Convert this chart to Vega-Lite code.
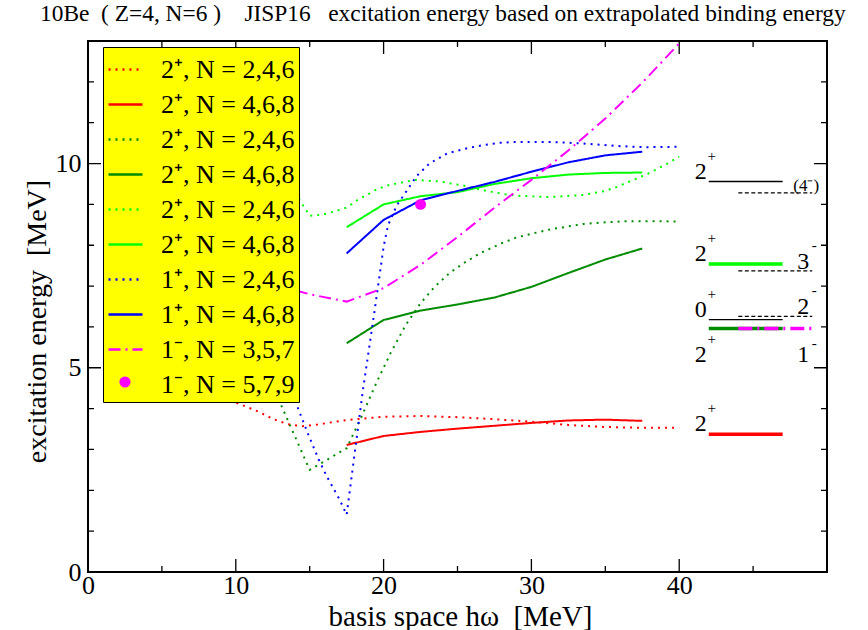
{
  "$schema": "https://vega.github.io/schema/vega-lite/v6.json",
  "width": 739,
  "height": 531,
  "autosize": {"type": "none"},
  "padding": {"left": 88, "top": 41, "right": 41, "bottom": 58},
  "background": "white",
  "config": {
    "view": {"stroke": "black", "strokeWidth": 2},
    "font": "Liberation Serif",
    "axis": {
      "domain": false, "ticks": false, "grid": false,
      "labelFont": "Liberation Serif", "labelFontSize": 26, "labelColor": "black",
      "titleFont": "Liberation Serif", "titleFontSize": 29, "titleFontWeight": "normal", "titleColor": "black",
      "labelFlush": false, "labelOverlap": false
    }
  },
  "title": {
    "text": "10Be\u00a0\u00a0(\u00a0Z=4,\u00a0N=6\u00a0)\u00a0\u00a0\u00a0\u00a0JISP16\u00a0\u00a0\u00a0excitation energy based on extrapolated binding energy",
    "anchor": "start", "frame": "group", "dx": -48, "offset": 14,
    "font": "Liberation Serif", "fontSize": 23.4, "fontWeight": "normal", "color": "black"
  },
  "datasets": {
    "xticks": [
      {"v": 5, "kind": "minor"}, {"v": 10, "kind": "major"}, {"v": 15, "kind": "minor"},
      {"v": 20, "kind": "major"}, {"v": 25, "kind": "minor"}, {"v": 30, "kind": "major"}, {"v": 35, "kind": "minor"},
      {"v": 40, "kind": "major"}, {"v": 45, "kind": "minor"}
    ],
    "yticks": [
      {"v": 1, "kind": "minor"}, {"v": 2, "kind": "minor"}, {"v": 3, "kind": "minor"}, {"v": 4, "kind": "minor"},
      {"v": 5, "kind": "major"}, {"v": 6, "kind": "minor"}, {"v": 7, "kind": "minor"}, {"v": 8, "kind": "minor"},
      {"v": 9, "kind": "minor"}, {"v": 10, "kind": "major"}, {"v": 11, "kind": "minor"}, {"v": 12, "kind": "minor"}
    ],
    "series": [
      {"series": "2⁺, N = 2,4,6|1", "hw": 7.5, "E": 4.6},
      {"series": "2⁺, N = 2,4,6|1", "hw": 10, "E": 4.15},
      {"series": "2⁺, N = 2,4,6|1", "hw": 11.5, "E": 3.93},
      {"series": "2⁺, N = 2,4,6|1", "hw": 12.5, "E": 3.75},
      {"series": "2⁺, N = 2,4,6|1", "hw": 13.5, "E": 3.62},
      {"series": "2⁺, N = 2,4,6|1", "hw": 14.5, "E": 3.57},
      {"series": "2⁺, N = 2,4,6|1", "hw": 15.5, "E": 3.61},
      {"series": "2⁺, N = 2,4,6|1", "hw": 17.5, "E": 3.72},
      {"series": "2⁺, N = 2,4,6|1", "hw": 20, "E": 3.80},
      {"series": "2⁺, N = 2,4,6|1", "hw": 22.5, "E": 3.82},
      {"series": "2⁺, N = 2,4,6|1", "hw": 25, "E": 3.79},
      {"series": "2⁺, N = 2,4,6|1", "hw": 27.5, "E": 3.74},
      {"series": "2⁺, N = 2,4,6|1", "hw": 30, "E": 3.68},
      {"series": "2⁺, N = 2,4,6|1", "hw": 32.5, "E": 3.60},
      {"series": "2⁺, N = 2,4,6|1", "hw": 35, "E": 3.55},
      {"series": "2⁺, N = 2,4,6|1", "hw": 37.5, "E": 3.53},
      {"series": "2⁺, N = 2,4,6|1", "hw": 40, "E": 3.53},

      {"series": "2⁺, N = 4,6,8|1", "hw": 17.5, "E": 3.11},
      {"series": "2⁺, N = 4,6,8|1", "hw": 20, "E": 3.33},
      {"series": "2⁺, N = 4,6,8|1", "hw": 22.5, "E": 3.43},
      {"series": "2⁺, N = 4,6,8|1", "hw": 25, "E": 3.51},
      {"series": "2⁺, N = 4,6,8|1", "hw": 27.5, "E": 3.58},
      {"series": "2⁺, N = 4,6,8|1", "hw": 30, "E": 3.65},
      {"series": "2⁺, N = 4,6,8|1", "hw": 32.5, "E": 3.71},
      {"series": "2⁺, N = 4,6,8|1", "hw": 35, "E": 3.73},
      {"series": "2⁺, N = 4,6,8|1", "hw": 37.5, "E": 3.70},

      {"series": "2⁺, N = 2,4,6|2", "hw": 12.5, "E": 4.55},
      {"series": "2⁺, N = 2,4,6|2", "hw": 15, "E": 2.50},
      {"series": "2⁺, N = 2,4,6|2", "hw": 17.5, "E": 3.03},
      {"series": "2⁺, N = 2,4,6|2", "hw": 18.5, "E": 3.80},
      {"series": "2⁺, N = 2,4,6|2", "hw": 19.5, "E": 4.62},
      {"series": "2⁺, N = 2,4,6|2", "hw": 20.5, "E": 5.38},
      {"series": "2⁺, N = 2,4,6|2", "hw": 21.5, "E": 6.05},
      {"series": "2⁺, N = 2,4,6|2", "hw": 22.5, "E": 6.58},
      {"series": "2⁺, N = 2,4,6|2", "hw": 23.5, "E": 7.00},
      {"series": "2⁺, N = 2,4,6|2", "hw": 24.5, "E": 7.33},
      {"series": "2⁺, N = 2,4,6|2", "hw": 25.5, "E": 7.58},
      {"series": "2⁺, N = 2,4,6|2", "hw": 26.5, "E": 7.80},
      {"series": "2⁺, N = 2,4,6|2", "hw": 28, "E": 8.05},
      {"series": "2⁺, N = 2,4,6|2", "hw": 29, "E": 8.19},
      {"series": "2⁺, N = 2,4,6|2", "hw": 30, "E": 8.28},
      {"series": "2⁺, N = 2,4,6|2", "hw": 31.3, "E": 8.39},
      {"series": "2⁺, N = 2,4,6|2", "hw": 32.5, "E": 8.46},
      {"series": "2⁺, N = 2,4,6|2", "hw": 33.5, "E": 8.52},
      {"series": "2⁺, N = 2,4,6|2", "hw": 35, "E": 8.56},
      {"series": "2⁺, N = 2,4,6|2", "hw": 36.5, "E": 8.59},
      {"series": "2⁺, N = 2,4,6|2", "hw": 38, "E": 8.59},
      {"series": "2⁺, N = 2,4,6|2", "hw": 40, "E": 8.58},

      {"series": "2⁺, N = 4,6,8|2", "hw": 17.5, "E": 5.60},
      {"series": "2⁺, N = 4,6,8|2", "hw": 20, "E": 6.17},
      {"series": "2⁺, N = 4,6,8|2", "hw": 22.5, "E": 6.40},
      {"series": "2⁺, N = 4,6,8|2", "hw": 25, "E": 6.55},
      {"series": "2⁺, N = 4,6,8|2", "hw": 27.5, "E": 6.72},
      {"series": "2⁺, N = 4,6,8|2", "hw": 30, "E": 6.98},
      {"series": "2⁺, N = 4,6,8|2", "hw": 32.5, "E": 7.32},
      {"series": "2⁺, N = 4,6,8|2", "hw": 35, "E": 7.65},
      {"series": "2⁺, N = 4,6,8|2", "hw": 37.5, "E": 7.92},

      {"series": "2⁺, N = 2,4,6|3", "hw": 12.5, "E": 9.95},
      {"series": "2⁺, N = 2,4,6|3", "hw": 14.3, "E": 9.12},
      {"series": "2⁺, N = 2,4,6|3", "hw": 15, "E": 8.72},
      {"series": "2⁺, N = 2,4,6|3", "hw": 15.9, "E": 8.75},
      {"series": "2⁺, N = 2,4,6|3", "hw": 16.6, "E": 8.82},
      {"series": "2⁺, N = 2,4,6|3", "hw": 17.5, "E": 8.92},
      {"series": "2⁺, N = 2,4,6|3", "hw": 18.2, "E": 9.10},
      {"series": "2⁺, N = 2,4,6|3", "hw": 18.9, "E": 9.24},
      {"series": "2⁺, N = 2,4,6|3", "hw": 19.5, "E": 9.36},
      {"series": "2⁺, N = 2,4,6|3", "hw": 20.2, "E": 9.46},
      {"series": "2⁺, N = 2,4,6|3", "hw": 21, "E": 9.52},
      {"series": "2⁺, N = 2,4,6|3", "hw": 22.2, "E": 9.60},
      {"series": "2⁺, N = 2,4,6|3", "hw": 23.8, "E": 9.56},
      {"series": "2⁺, N = 2,4,6|3", "hw": 25.4, "E": 9.46},
      {"series": "2⁺, N = 2,4,6|3", "hw": 26.7, "E": 9.35},
      {"series": "2⁺, N = 2,4,6|3", "hw": 28, "E": 9.26},
      {"series": "2⁺, N = 2,4,6|3", "hw": 29, "E": 9.21},
      {"series": "2⁺, N = 2,4,6|3", "hw": 31.3, "E": 9.18},
      {"series": "2⁺, N = 2,4,6|3", "hw": 33.5, "E": 9.23},
      {"series": "2⁺, N = 2,4,6|3", "hw": 35, "E": 9.33},
      {"series": "2⁺, N = 2,4,6|3", "hw": 35.8, "E": 9.43},
      {"series": "2⁺, N = 2,4,6|3", "hw": 36.9, "E": 9.60},
      {"series": "2⁺, N = 2,4,6|3", "hw": 38, "E": 9.77},
      {"series": "2⁺, N = 2,4,6|3", "hw": 39.2, "E": 10.0},
      {"series": "2⁺, N = 2,4,6|3", "hw": 40, "E": 10.17},

      {"series": "2⁺, N = 4,6,8|3", "hw": 17.5, "E": 8.44},
      {"series": "2⁺, N = 4,6,8|3", "hw": 20, "E": 9.00},
      {"series": "2⁺, N = 4,6,8|3", "hw": 22.5, "E": 9.20},
      {"series": "2⁺, N = 4,6,8|3", "hw": 25, "E": 9.30},
      {"series": "2⁺, N = 4,6,8|3", "hw": 27.5, "E": 9.50},
      {"series": "2⁺, N = 4,6,8|3", "hw": 30, "E": 9.64},
      {"series": "2⁺, N = 4,6,8|3", "hw": 32.5, "E": 9.73},
      {"series": "2⁺, N = 4,6,8|3", "hw": 35, "E": 9.77},
      {"series": "2⁺, N = 4,6,8|3", "hw": 37.5, "E": 9.78},

      {"series": "1⁺, N = 2,4,6|1", "hw": 12.5, "E": 5.45},
      {"series": "1⁺, N = 2,4,6|1", "hw": 14.1, "E": 4.11},
      {"series": "1⁺, N = 2,4,6|1", "hw": 14.9, "E": 3.37},
      {"series": "1⁺, N = 2,4,6|1", "hw": 15.6, "E": 2.76},
      {"series": "1⁺, N = 2,4,6|1", "hw": 16.2, "E": 2.31},
      {"series": "1⁺, N = 2,4,6|1", "hw": 17, "E": 1.79},
      {"series": "1⁺, N = 2,4,6|1", "hw": 17.5, "E": 1.40},
      {"series": "1⁺, N = 2,4,6|1", "hw": 18.6, "E": 4.45},
      {"series": "1⁺, N = 2,4,6|1", "hw": 19.3, "E": 6.17},
      {"series": "1⁺, N = 2,4,6|1", "hw": 20, "E": 7.96},
      {"series": "1⁺, N = 2,4,6|1", "hw": 20.3, "E": 8.49},
      {"series": "1⁺, N = 2,4,6|1", "hw": 20.9, "E": 8.98},
      {"series": "1⁺, N = 2,4,6|1", "hw": 21.6, "E": 9.35},
      {"series": "1⁺, N = 2,4,6|1", "hw": 22.2, "E": 9.68},
      {"series": "1⁺, N = 2,4,6|1", "hw": 23.1, "E": 10.0},
      {"series": "1⁺, N = 2,4,6|1", "hw": 24.3, "E": 10.25},
      {"series": "1⁺, N = 2,4,6|1", "hw": 25.6, "E": 10.37},
      {"series": "1⁺, N = 2,4,6|1", "hw": 26.7, "E": 10.45},
      {"series": "1⁺, N = 2,4,6|1", "hw": 27.9, "E": 10.51},
      {"series": "1⁺, N = 2,4,6|1", "hw": 29, "E": 10.53},
      {"series": "1⁺, N = 2,4,6|1", "hw": 31.3, "E": 10.53},
      {"series": "1⁺, N = 2,4,6|1", "hw": 33.5, "E": 10.49},
      {"series": "1⁺, N = 2,4,6|1", "hw": 35.8, "E": 10.43},
      {"series": "1⁺, N = 2,4,6|1", "hw": 37.6, "E": 10.40},
      {"series": "1⁺, N = 2,4,6|1", "hw": 40, "E": 10.41},

      {"series": "1⁺, N = 4,6,8|1", "hw": 17.5, "E": 7.80},
      {"series": "1⁺, N = 4,6,8|1", "hw": 20, "E": 8.62},
      {"series": "1⁺, N = 4,6,8|1", "hw": 22.5, "E": 9.10},
      {"series": "1⁺, N = 4,6,8|1", "hw": 25, "E": 9.33},
      {"series": "1⁺, N = 4,6,8|1", "hw": 27.5, "E": 9.55},
      {"series": "1⁺, N = 4,6,8|1", "hw": 30, "E": 9.80},
      {"series": "1⁺, N = 4,6,8|1", "hw": 32.5, "E": 10.03},
      {"series": "1⁺, N = 4,6,8|1", "hw": 35, "E": 10.20},
      {"series": "1⁺, N = 4,6,8|1", "hw": 37.5, "E": 10.29},

      {"series": "1⁻, N = 3,5,7|1", "hw": 12.5, "E": 7.05},
      {"series": "1⁻, N = 3,5,7|1", "hw": 15, "E": 6.80},
      {"series": "1⁻, N = 3,5,7|1", "hw": 17.5, "E": 6.62},
      {"series": "1⁻, N = 3,5,7|1", "hw": 20, "E": 6.95},
      {"series": "1⁻, N = 3,5,7|1", "hw": 22.5, "E": 7.52},
      {"series": "1⁻, N = 3,5,7|1", "hw": 25, "E": 8.20},
      {"series": "1⁻, N = 3,5,7|1", "hw": 27.5, "E": 8.92},
      {"series": "1⁻, N = 3,5,7|1", "hw": 30, "E": 9.60},
      {"series": "1⁻, N = 3,5,7|1", "hw": 32.5, "E": 10.32},
      {"series": "1⁻, N = 3,5,7|1", "hw": 35, "E": 11.10},
      {"series": "1⁻, N = 3,5,7|1", "hw": 37.5, "E": 11.98},
      {"series": "1⁻, N = 3,5,7|1", "hw": 40, "E": 12.94},

      {"series": "1⁻, N = 5,7,9|1", "hw": 22.5, "E": 9.0}
    ],
    "levels": [
      {"label": "2", "sup": "+", "E": 9.56, "x1": 42, "x2": 47, "col": "left", "pos": "above", "series": "exp"},
      {"label": "2", "sup": "+", "E": 7.54, "x1": 42, "x2": 47, "col": "left", "pos": "above", "series": "2⁺, N = 4,6,8|3"},
      {"label": "0", "sup": "+", "E": 6.18, "x1": 42, "x2": 47, "col": "left", "pos": "above", "series": "exp"},
      {"label": "2", "sup": "+", "E": 5.96, "x1": 42, "x2": 47, "col": "left", "pos": "below", "series": "2⁺, N = 4,6,8|2"},
      {"label": "2", "sup": "+", "E": 3.37, "x1": 42, "x2": 47, "col": "left", "pos": "above", "series": "2⁺, N = 4,6,8|1"},
      {"label": "(4⁻)", "sup": "", "E": 9.28, "x1": 44, "x2": 49, "col": "right", "pos": "above", "series": "exp"},
      {"label": "3", "sup": "-", "E": 7.37, "x1": 44, "x2": 49, "col": "right", "pos": "above", "series": "exp"},
      {"label": "2", "sup": "-", "E": 6.26, "x1": 44, "x2": 49, "col": "right", "pos": "above", "series": "exp"},
      {"label": "1", "sup": "-", "E": 5.96, "x1": 44, "x2": 49, "col": "right", "pos": "below", "series": "1⁻, N = 3,5,7|1"}
    ]
  },
  "resolve": {"axis": {"x": "independent", "y": "independent"}},
  "layer": [
    {
      "data": {"name": "xticks"},
      "transform": [{"filter": "datum.kind === 'major'"}],
      "mark": {"type": "rule", "color": "black", "strokeWidth": 1.3, "strokeDash": [13, 505, 13, 2000]},
      "encoding": {
        "x": {"field": "v", "type": "quantitative", "scale": {"domain": [0, 50], "nice": false, "zero": false}, "axis": null},
        "y": {"datum": 0, "type": "quantitative", "scale": {"domain": [0, 13], "nice": false, "zero": false}, "axis": null},
        "y2": {"datum": 13}
      }
    },
    {
      "data": {"name": "xticks"},
      "transform": [{"filter": "datum.kind === 'minor'"}],
      "mark": {"type": "rule", "color": "black", "strokeWidth": 1.3, "strokeDash": [6, 519, 6, 2000]},
      "encoding": {
        "x": {"field": "v", "type": "quantitative", "axis": null},
        "y": {"datum": 0, "type": "quantitative", "axis": null},
        "y2": {"datum": 13}
      }
    },
    {
      "data": {"name": "yticks"},
      "transform": [{"filter": "datum.kind === 'major'"}],
      "mark": {"type": "rule", "color": "black", "strokeWidth": 1.3, "strokeDash": [13, 713, 13, 2000]},
      "encoding": {
        "y": {"field": "v", "type": "quantitative", "axis": null},
        "x": {"datum": 0, "type": "quantitative", "axis": null},
        "x2": {"datum": 50}
      }
    },
    {
      "data": {"name": "yticks"},
      "transform": [{"filter": "datum.kind === 'minor'"}],
      "mark": {"type": "rule", "color": "black", "strokeWidth": 1.3, "strokeDash": [6, 727, 6, 2000]},
      "encoding": {
        "y": {"field": "v", "type": "quantitative", "axis": null},
        "x": {"datum": 0, "type": "quantitative", "axis": null},
        "x2": {"datum": 50}
      }
    },
    {
      "data": {"name": "series"},
      "transform": [{"filter": "datum.series !== '1⁻, N = 5,7,9|1'"}],
      "mark": {"type": "line", "strokeWidth": 2, "clip": true},
      "encoding": {
        "x": {
          "field": "hw", "type": "quantitative",
          "scale": {"domain": [0, 50], "nice": false, "zero": false},
          "axis": {
            "orient": "bottom", "values": [0, 10, 20, 30, 40],
            "labelBaseline": "alphabetic", "labelPadding": 21,
            "title": "basis space hω\u00a0\u00a0[MeV]", "titleX": 372, "titleY": 53, "titleBaseline": "alphabetic"
          }
        },
        "y": {
          "field": "E", "type": "quantitative",
          "scale": {"domain": [0, 13], "nice": false, "zero": false},
          "axis": {
            "orient": "left", "values": [0, 5, 10], "labelPadding": 7,
            "title": "excitation energy\u00a0\u00a0[MeV]", "titleFontSize": 28, "titleX": -43, "titleY": 280, "titleBaseline": "alphabetic"
          }
        },
        "color": {
          "field": "series", "type": "nominal",
          "scale": {
            "domain": ["2⁺, N = 2,4,6|1", "2⁺, N = 4,6,8|1", "2⁺, N = 2,4,6|2", "2⁺, N = 4,6,8|2", "2⁺, N = 2,4,6|3", "2⁺, N = 4,6,8|3", "1⁺, N = 2,4,6|1", "1⁺, N = 4,6,8|1", "1⁻, N = 3,5,7|1", "1⁻, N = 5,7,9|1"],
            "range": ["#ff0000", "#ff0000", "#008b00", "#008b00", "#00ff00", "#00ff00", "#0000ff", "#0000ff", "#ff00ff", "#ff00ff"]
          },
          "legend": {
            "title": null, "orient": "none", "legendX": 15, "legendY": 6,
            "fillColor": "#ffff00", "strokeColor": "#000000", "padding": 4,
            "symbolType": "stroke", "symbolSize": 1156, "symbolStrokeWidth": 2.5,
            "labelFont": "Liberation Serif", "labelFontSize": 26, "labelColor": "black",
            "labelOffset": 17, "labelLimit": 400, "rowPadding": 3,
            "labelExpr": "substring(datum.label, 0, indexof(datum.label, '|'))"
          }
        },
        "strokeDash": {
          "field": "series", "type": "nominal",
          "scale": {
            "domain": ["2⁺, N = 2,4,6|1", "2⁺, N = 4,6,8|1", "2⁺, N = 2,4,6|2", "2⁺, N = 4,6,8|2", "2⁺, N = 2,4,6|3", "2⁺, N = 4,6,8|3", "1⁺, N = 2,4,6|1", "1⁺, N = 4,6,8|1", "1⁻, N = 3,5,7|1", "1⁻, N = 5,7,9|1"],
            "range": [[2, 5], [1, 0], [2, 5], [1, 0], [2, 5], [1, 0], [2, 5], [1, 0], [12, 5, 2, 5], [0, 1000]]
          }
        }
      }
    },
    {
      "data": {"name": "series"},
      "transform": [{"filter": "datum.series === '1⁻, N = 5,7,9|1'"}],
      "mark": {"type": "point", "filled": true, "color": "#ff00ff", "opacity": 1, "size": 120},
      "encoding": {
        "x": {"field": "hw", "type": "quantitative", "axis": null},
        "y": {"field": "E", "type": "quantitative", "axis": null},
        "shape": {
          "field": "series", "type": "nominal",
          "scale": {"domain": ["1⁻, N = 5,7,9|1"], "range": ["circle"]},
          "legend": {
            "title": null, "orient": "none", "legendX": 31, "legendY": 335, "padding": 0,
            "labelExpr": "''", "symbolSize": 125, "symbolFillColor": "#ff00ff",
            "symbolStrokeColor": "#ff00ff", "symbolStrokeWidth": 0, "symbolOpacity": 1
          }
        }
      }
    },
    {
      "data": {"name": "levels"},
      "transform": [{"filter": "datum.col === 'left' && datum.series === 'exp'"}],
      "mark": {"type": "rule", "color": "black", "strokeWidth": 1.3},
      "encoding": {
        "x": {"field": "x1", "type": "quantitative", "axis": null},
        "x2": {"field": "x2"},
        "y": {"field": "E", "type": "quantitative", "axis": null}
      }
    },
    {
      "data": {"name": "levels"},
      "transform": [{"filter": "datum.col === 'right' && datum.series === 'exp'"}],
      "mark": {"type": "rule", "color": "black", "strokeWidth": 1.2, "strokeDash": [4, 2.5]},
      "encoding": {
        "x": {"field": "x1", "type": "quantitative", "axis": null},
        "x2": {"field": "x2"},
        "y": {"field": "E", "type": "quantitative", "axis": null}
      }
    },
    {
      "data": {"name": "levels"},
      "transform": [{"filter": "datum.series === '2⁺, N = 4,6,8|3'"}],
      "mark": {"type": "rule", "color": "#00ff00", "strokeWidth": 3.5},
      "encoding": {
        "x": {"field": "x1", "type": "quantitative", "axis": null},
        "x2": {"field": "x2"},
        "y": {"field": "E", "type": "quantitative", "axis": null}
      }
    },
    {
      "data": {"name": "levels"},
      "transform": [{"filter": "datum.series === '2⁺, N = 4,6,8|2'"}],
      "mark": {"type": "rule", "color": "#008b00", "strokeWidth": 3.5},
      "encoding": {
        "x": {"field": "x1", "type": "quantitative", "axis": null},
        "x2": {"field": "x2"},
        "y": {"field": "E", "type": "quantitative", "axis": null}
      }
    },
    {
      "data": {"name": "levels"},
      "transform": [{"filter": "datum.series === '2⁺, N = 4,6,8|1'"}],
      "mark": {"type": "rule", "color": "#ff0000", "strokeWidth": 3.5},
      "encoding": {
        "x": {"field": "x1", "type": "quantitative", "axis": null},
        "x2": {"field": "x2"},
        "y": {"field": "E", "type": "quantitative", "axis": null}
      }
    },
    {
      "data": {"name": "levels"},
      "transform": [{"filter": "datum.series === '1⁻, N = 3,5,7|1'"}],
      "mark": {"type": "rule", "color": "#ff00ff", "strokeWidth": 3.5, "strokeDash": [14, 5, 2, 5]},
      "encoding": {
        "x": {"field": "x1", "type": "quantitative", "axis": null},
        "x2": {"field": "x2"},
        "y": {"field": "E", "type": "quantitative", "axis": null}
      }
    },
    {
      "data": {"name": "levels"},
      "transform": [{"filter": "datum.col === 'left' && datum.pos === 'above'"}],
      "mark": {"type": "text", "align": "right", "baseline": "alphabetic", "dx": -2, "dy": -3, "fontSize": 24, "font": "Liberation Serif", "color": "black"},
      "encoding": {
        "x": {"field": "x1", "type": "quantitative", "axis": null},
        "y": {"field": "E", "type": "quantitative", "axis": null},
        "text": {"field": "label"}
      }
    },
    {
      "data": {"name": "levels"},
      "transform": [{"filter": "datum.col === 'left' && datum.pos === 'below'"}],
      "mark": {"type": "text", "align": "right", "baseline": "alphabetic", "dx": -2, "dy": 33, "fontSize": 24, "font": "Liberation Serif", "color": "black"},
      "encoding": {
        "x": {"field": "x1", "type": "quantitative", "axis": null},
        "y": {"field": "E", "type": "quantitative", "axis": null},
        "text": {"field": "label"}
      }
    },
    {
      "data": {"name": "levels"},
      "transform": [{"filter": "datum.col === 'left' && datum.pos === 'above'"}],
      "mark": {"type": "text", "align": "center", "baseline": "middle", "dx": 3, "dy": -26, "fontSize": 15, "font": "Liberation Serif", "color": "black"},
      "encoding": {
        "x": {"field": "x1", "type": "quantitative", "axis": null},
        "y": {"field": "E", "type": "quantitative", "axis": null},
        "text": {"field": "sup"}
      }
    },
    {
      "data": {"name": "levels"},
      "transform": [{"filter": "datum.col === 'left' && datum.pos === 'below'"}],
      "mark": {"type": "text", "align": "center", "baseline": "middle", "dx": 3, "dy": 10, "fontSize": 15, "font": "Liberation Serif", "color": "black"},
      "encoding": {
        "x": {"field": "x1", "type": "quantitative", "axis": null},
        "y": {"field": "E", "type": "quantitative", "axis": null},
        "text": {"field": "sup"}
      }
    },
    {
      "data": {"name": "levels"},
      "transform": [{"filter": "datum.col === 'right' && datum.pos === 'above' && datum.sup !== ''"}],
      "mark": {"type": "text", "align": "right", "baseline": "alphabetic", "dx": -3, "dy": -2, "fontSize": 24, "font": "Liberation Serif", "color": "black"},
      "encoding": {
        "x": {"field": "x2", "type": "quantitative", "axis": null},
        "y": {"field": "E", "type": "quantitative", "axis": null},
        "text": {"field": "label"}
      }
    },
    {
      "data": {"name": "levels"},
      "transform": [{"filter": "datum.col === 'right' && datum.pos === 'below'"}],
      "mark": {"type": "text", "align": "right", "baseline": "alphabetic", "dx": -3, "dy": 33, "fontSize": 24, "font": "Liberation Serif", "color": "black"},
      "encoding": {
        "x": {"field": "x2", "type": "quantitative", "axis": null},
        "y": {"field": "E", "type": "quantitative", "axis": null},
        "text": {"field": "label"}
      }
    },
    {
      "data": {"name": "levels"},
      "transform": [{"filter": "datum.col === 'right' && datum.pos === 'above' && datum.sup !== ''"}],
      "mark": {"type": "text", "align": "center", "baseline": "middle", "dx": 2, "dy": -26, "fontSize": 15, "font": "Liberation Serif", "color": "black"},
      "encoding": {
        "x": {"field": "x2", "type": "quantitative", "axis": null},
        "y": {"field": "E", "type": "quantitative", "axis": null},
        "text": {"field": "sup"}
      }
    },
    {
      "data": {"name": "levels"},
      "transform": [{"filter": "datum.col === 'right' && datum.pos === 'below'"}],
      "mark": {"type": "text", "align": "center", "baseline": "middle", "dx": 2, "dy": 14, "fontSize": 15, "font": "Liberation Serif", "color": "black"},
      "encoding": {
        "x": {"field": "x2", "type": "quantitative", "axis": null},
        "y": {"field": "E", "type": "quantitative", "axis": null},
        "text": {"field": "sup"}
      }
    },
    {
      "data": {"name": "levels"},
      "transform": [{"filter": "datum.sup === ''"}],
      "mark": {"type": "text", "align": "left", "baseline": "alphabetic", "dx": -19, "dy": -2, "fontSize": 17, "font": "Liberation Serif", "color": "black"},
      "encoding": {
        "x": {"field": "x2", "type": "quantitative", "axis": null},
        "y": {"field": "E", "type": "quantitative", "axis": null},
        "text": {"field": "label"}
      }
    }
  ]
}
